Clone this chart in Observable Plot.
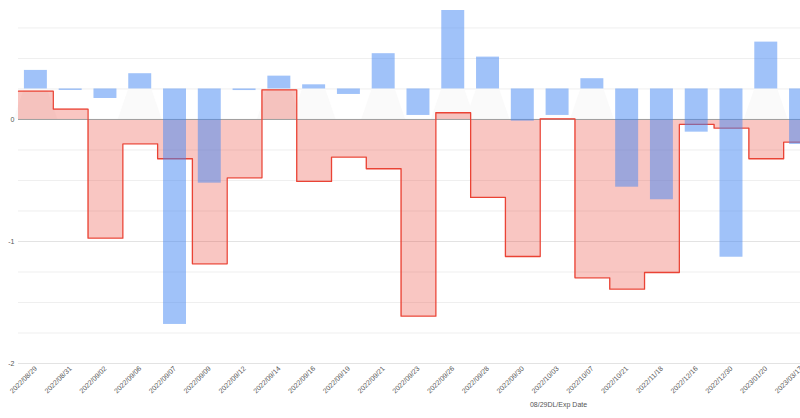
<!DOCTYPE html>
<html>
<head>
<meta charset="utf-8">
<script src="https://cdn.jsdelivr.net/npm/d3@7"></script>
<script src="https://cdn.jsdelivr.net/npm/@observablehq/plot@0.6"></script>
<style>
  html, body { margin: 0; padding: 0; background: #fff; overflow: hidden; }
  #chart svg { display: block; }
</style>
</head>
<body>
<div id="chart"></div>
<script>
// Categories (x axis)
const dates = ["2022/08/29","2022/08/31","2022/09/02","2022/09/06","2022/09/07","2022/09/09",
  "2022/09/12","2022/09/14","2022/09/16","2022/09/19","2022/09/21","2022/09/23","2022/09/26",
  "2022/09/28","2022/09/30","2022/10/03","2022/10/07","2022/10/21","2022/11/18","2022/12/16",
  "2022/12/30","2023/01/20","2023/03/17"];

// Red stepped-area series (primary axis)
const redValues = [0.232, 0.085, -0.973, -0.200, -0.322, -1.183, -0.478, 0.243, -0.508, -0.309,
  -0.404, -1.612, 0.055, -0.639, -1.123, 0.005, -1.298, -1.391, -1.254, -0.041, -0.071, -0.322, -0.186];

// Blue bar series (secondary axis, measured from its own zero line)
const blueValues = [0.152, -0.012, -0.078, 0.125, -1.930, -0.772, -0.013, 0.105, 0.034, -0.045,
  0.289, -0.217, 0.643, 0.261, -0.264, -0.217, 0.084, -0.805, -0.908, -0.354, -1.379, 0.384, -0.455];

// Axis ticks
const yTickLabels = [0, -1, -2];
const yGridMinor = [-1.75, -1.5, -1.25, -0.75, -0.5, -0.25, 0.25, 0.5, 0.75];
const yGridMajor = [-2, -1];
const xTitle = "08/29DL/Exp Date";

// secondary axis zero sits at this primary value
const blueZero = 0.25;
const barInset = 0.17;

const n = dates.length;
const stepData = redValues.map((v, i) => ({x: i, y: v}));
stepData.push({x: n, y: redValues[n - 1]});
const blueData = blueValues.map((v, i) => ({i, v}));
const tentData = [];
blueData.filter(d => d.v > 0).forEach(d => {
  tentData.push({z: d.i, y: blueZero, x1: d.i + barInset, x2: d.i + 1 - barInset});
  tentData.push({z: d.i, y: 0, x1: d.i + barInset - 0.3, x2: d.i + 1 - barInset + 0.3});
});
const xTicks = dates.map((d, i) => i + 0.5);

const chart = Plot.plot({
  width: 800,
  height: 418,
  marginLeft: 18,
  marginRight: 0,
  marginTop: 0,
  marginBottom: 55,
  style: {fontFamily: "'Liberation Sans', Arial, sans-serif", background: "#fff", overflow: "hidden"},
  x: {type: "linear", domain: [0, n], range: [18, 18 + n * 34.78]},
  y: {domain: [-2, 0.975]},
  marks: [
    Plot.ruleY(yGridMinor, {stroke: "#efefef", strokeWidth: 1}),
    Plot.ruleY(yGridMajor, {stroke: "#e3e3e3", strokeWidth: 1}),
    Plot.areaX(tentData, {y: "y", x1: "x1", x2: "x2", z: "z", fill: "#fafafa"}),
    Plot.areaY(stepData, {x: "x", y1: 0, y2: "y", curve: "step-after", fill: "#ea4335", fillOpacity: 0.3}),
    Plot.ruleY([0], {stroke: "#9e9e9e", strokeWidth: 1}),
    Plot.lineY(stepData, {x: "x", y: "y", curve: "step-after", stroke: "#ea4335", strokeWidth: 1.3}),
    Plot.rectY(blueData, {
      x1: d => d.i + barInset, x2: d => d.i + 1 - barInset,
      y1: blueZero, y2: d => blueZero + d.v,
      fill: "#4285f4", fillOpacity: 0.5
    }),
    Plot.axisX({
      ticks: xTicks, tickFormat: t => dates[Math.floor(t)], tickRotate: -45,
      tickSize: 0, tickPadding: 4, fontSize: 7, fill: "#555", label: null
    }),
    Plot.axisY({ticks: yTickLabels, tickFormat: d => String(d), tickSize: 0, tickPadding: 4,
      fontSize: 7, fill: "#555", label: null}),
    Plot.text([xTitle], {
      text: d => d, frameAnchor: "bottom", dx: 149, dy: 43,
      fontSize: 7, fill: "#555"
    })
  ]
});
document.getElementById("chart").appendChild(chart);
</script>
</body>
</html>
